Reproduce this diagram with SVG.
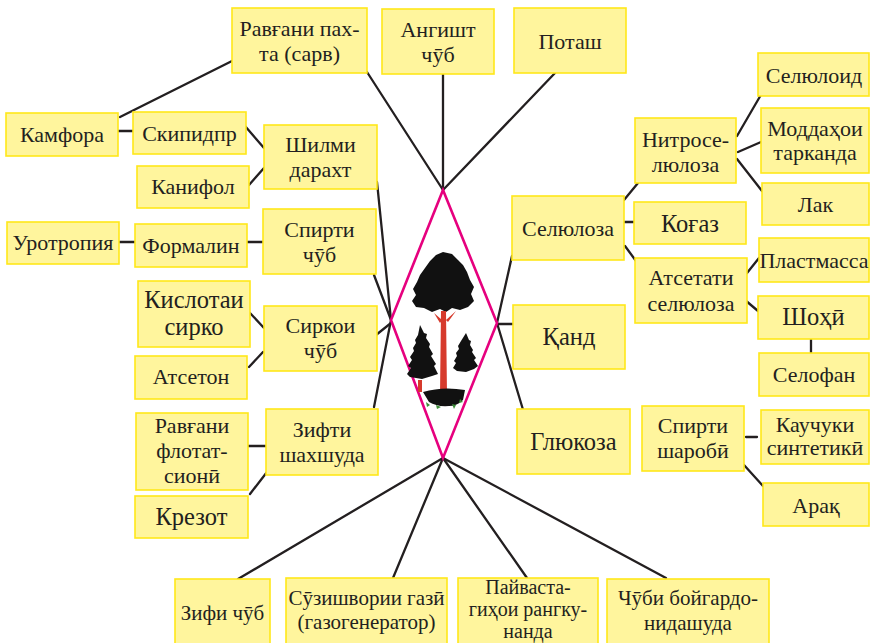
<svg xmlns="http://www.w3.org/2000/svg" width="871" height="643" viewBox="0 0 871 643" font-family="Liberation Serif, Times New Roman, serif">
<style>
.b{fill:#FFF59D;stroke:#FFE81A;stroke-width:1.6}
.t{font-size:22px;fill:#231F20;text-anchor:middle}
.g{font-size:24.5px}
.s{font-size:21px}
.p{font-size:20px}
.c{stroke:#231F20;stroke-width:2.3;fill:none;stroke-linecap:round}
.d{fill:#FFFFFF;stroke:#E6007E;stroke-width:2.6;stroke-linejoin:miter}
</style>
<rect width="871" height="643" fill="#FFFFFF"/>
<g id="connectors">
<line class="c" x1="118" y1="131" x2="133" y2="131"/>
<line class="c" x1="120" y1="117" x2="232" y2="61"/>
<line class="c" x1="245" y1="126" x2="264" y2="148"/>
<line class="c" x1="249" y1="185" x2="264" y2="168"/>
<line class="c" x1="367" y1="72" x2="443" y2="190"/>
<line class="c" x1="443" y1="74" x2="443" y2="190"/>
<line class="c" x1="555" y1="73" x2="443" y2="190"/>
<line class="c" x1="377" y1="182" x2="391" y2="320"/>
<line class="c" x1="374" y1="275" x2="391" y2="320"/>
<line class="c" x1="376" y1="335" x2="391" y2="323"/>
<line class="c" x1="374" y1="407" x2="391" y2="320"/>
<line class="c" x1="119" y1="242" x2="135" y2="242"/>
<line class="c" x1="247" y1="242" x2="263" y2="242"/>
<line class="c" x1="250" y1="313" x2="264" y2="328"/>
<line class="c" x1="249" y1="367" x2="263" y2="352"/>
<line class="c" x1="248" y1="446" x2="266" y2="446"/>
<line class="c" x1="250" y1="494" x2="267" y2="472"/>
<line class="c" x1="238" y1="579" x2="443" y2="458"/>
<line class="c" x1="393" y1="578" x2="443" y2="458"/>
<line class="c" x1="527" y1="578" x2="443" y2="458"/>
<line class="c" x1="666" y1="578" x2="443" y2="458"/>
<line class="c" x1="512" y1="256" x2="497" y2="323"/>
<line class="c" x1="497" y1="324" x2="513" y2="324"/>
<line class="c" x1="497" y1="323" x2="524" y2="413"/>
<line class="c" x1="624" y1="200" x2="638" y2="183"/>
<line class="c" x1="624" y1="222" x2="634" y2="222"/>
<line class="c" x1="625" y1="246" x2="636" y2="261"/>
<line class="c" x1="737" y1="136" x2="762" y2="93"/>
<line class="c" x1="738" y1="152" x2="761" y2="142"/>
<line class="c" x1="737" y1="159" x2="762" y2="191"/>
<line class="c" x1="747" y1="273" x2="759" y2="258"/>
<line class="c" x1="745" y1="300" x2="758" y2="311"/>
<line class="c" x1="811" y1="339" x2="811" y2="353"/>
<line class="c" x1="746" y1="437" x2="757" y2="437"/>
<line class="c" x1="744" y1="465" x2="763" y2="486"/>
</g>
<g id="tree">
<polygon class="d" points="443,190 497,323 443,458 391,320"/>
<path fill="#111111" d="M443,252 L452,254 L458,260 L463,265 L467,272 L470,280 L474,287 L471,294 L474,301 L468,307 L460,310 L452,308 L446,312 L440,309 L432,312 L424,308 L416,307 L412,301 L416,295 L413,289 L417,282 L420,275 L425,268 L430,261 L436,255 Z"/>
<path fill="#D63A2C" d="M441,311 h5 l1,84 h-7 z M434,313 l8,7 l-2,3 z M456,311 l-10,9 l2,2 z"/>
<path fill="#111111" d="M420,325 l4,8 l3,1 l-1,4 l4,6 l-1,3 l4,7 l-2,2 l5,8 l-2,2 l4,8 l-6,2 l-10,3 l-12,-2 l-3,-3 l4,-6 l-3,-2 l4,-6 l-2,-3 l4,-6 l-1,-3 l3,-5 l-1,-3 l3,-5 z"/>
<path fill="#D63A2C" d="M418,380 h4 v12 h-4 z"/>
<path fill="#111111" d="M466,333 l3,7 l2,1 l-1,4 l3,5 l-1,2 l4,6 l-2,2 l4,6 l-4,3 l-8,3 l-9,-1 l-4,-3 l3,-5 l-2,-2 l3,-5 l-1,-3 l3,-4 l-1,-3 l3,-5 z"/>
<path fill="#111111" d="M423,392 q20,-6 42,-2 l-2,10 q-6,6 -14,6 q-12,1 -20,-4 z"/>
<path fill="#3E8E3A" d="M426,402 l4,3 l-3,2 z M436,405 l5,2 l-4,2 z M452,404 l4,1 l-2,4 z M460,399 l3,3 l-4,1 z"/>
</g>
<g id="n_ravgani_pakhta"><rect class="b" x="232" y="8" width="135" height="65"/><text class="t" x="299.5" y="36">Равғани пах-</text><text class="t" x="299.5" y="61">та (сарв)</text></g>
<g id="n_angisht"><rect class="b" x="382" y="9" width="112" height="65"/><text class="t" x="438" y="37">Ангишт</text><text class="t" x="438" y="62">чӯб</text></g>
<g id="n_potash"><rect class="b" x="514" y="8" width="112" height="65"/><text class="t" x="570" y="49">Поташ</text></g>
<g id="n_kamfora"><rect class="b" x="6" y="113" width="112" height="43"/><text class="t" x="62" y="142">Камфора</text></g>
<g id="n_skipidpr"><rect class="b" x="133" y="112" width="113" height="42"/><text class="t" x="189.5" y="141">Скипидпр</text></g>
<g id="n_kanifol"><rect class="b" x="137" y="166" width="112" height="42"/><text class="t" x="193" y="194">Канифол</text></g>
<g id="n_shilmi"><rect class="b" x="264" y="125" width="113" height="64"/><text class="t" x="320.5" y="152">Шилми</text><text class="t" x="320.5" y="177">дарахт</text></g>
<g id="n_urotropiya"><rect class="b" x="7" y="222" width="112" height="42"/><text class="t" x="63" y="250">Уротропия</text></g>
<g id="n_formalin"><rect class="b" x="135" y="224" width="112" height="43"/><text class="t" x="191" y="252.5">Формалин</text></g>
<g id="n_spirti_chub"><rect class="b" x="263" y="209" width="113" height="65"/><text class="t" x="319.5" y="236.5">Спирти</text><text class="t" x="319.5" y="261.5">чӯб</text></g>
<g id="n_kislota"><rect class="b" x="138" y="281" width="112" height="66"/><text class="t g" x="194" y="308">Кислотаи</text><text class="t g" x="194" y="335">сирко</text></g>
<g id="n_sirkoi"><rect class="b" x="264" y="306" width="113" height="65"/><text class="t" x="320.5" y="333">Сиркои</text><text class="t" x="320.5" y="358">чӯб</text></g>
<g id="n_atseton"><rect class="b" x="135" y="356" width="112" height="43"/><text class="t" x="191" y="384">Атсетон</text></g>
<g id="n_ravgani_flot"><rect class="b" x="136" y="413" width="112" height="77"/><text class="t" x="192" y="433">Равғани</text><text class="t" x="192" y="458">флотат-</text><text class="t" x="192" y="483">сионӣ</text></g>
<g id="n_zifti"><rect class="b" x="266" y="409" width="112" height="66"/><text class="t" x="322" y="436.5">Зифти</text><text class="t" x="322" y="462">шахшуда</text></g>
<g id="n_krezot"><rect class="b" x="135" y="496" width="113" height="42"/><text class="t g" x="191.5" y="524.5">Крезот</text></g>
<g id="n_zifi_chub"><rect class="b" x="175" y="579" width="95" height="66"/><text class="t s" x="222.5" y="620">Зифи чӯб</text></g>
<g id="n_suzishvori"><rect class="b" x="286" y="578" width="161" height="67"/><text class="t s" x="366.5" y="605">Сӯзишвории газӣ</text><text class="t s" x="366.5" y="629">(газогенератор)</text></g>
<g id="n_payvasta"><rect class="b" x="458" y="578" width="140" height="67"/><text class="t p" x="528" y="594">Пайваста-</text><text class="t p" x="528" y="616">гиҳои рангку-</text><text class="t p" x="528" y="638">нанда</text></g>
<g id="n_chubi"><rect class="b" x="607" y="579" width="162" height="66"/><text class="t s" x="688" y="605">Чӯби бойгардо-</text><text class="t s" x="688" y="630">нидашуда</text></g>
<g id="n_selyuloza"><rect class="b" x="512" y="196" width="112" height="64"/><text class="t" x="568" y="235.5">Селюлоза</text></g>
<g id="n_nitro"><rect class="b" x="635" y="118" width="101" height="65"/><text class="t" x="685.5" y="146.5">Нитросе-</text><text class="t" x="685.5" y="171.5">люлоза</text></g>
<g id="n_kogaz"><rect class="b" x="634" y="202" width="112" height="42"/><text class="t g" x="690" y="231.5">Коғаз</text></g>
<g id="n_atsetati"><rect class="b" x="635" y="258" width="112" height="65"/><text class="t" x="691" y="285">Атсетати</text><text class="t" x="691" y="311">селюлоза</text></g>
<g id="n_selyuloid"><rect class="b" x="758" y="53" width="111" height="43"/><text class="t" x="814" y="83">Селюлоид</text></g>
<g id="n_moddahoi"><rect class="b" x="761" y="108" width="108" height="65"/><text class="t" x="815" y="136">Моддаҳои</text><text class="t" x="815" y="160">тарканда</text></g>
<g id="n_lak"><rect class="b" x="762" y="183" width="107" height="42"/><text class="t" x="815.5" y="211.5">Лак</text></g>
<g id="n_plastmassa"><rect class="b" x="759" y="238" width="110" height="44"/><text class="t" x="814" y="267.5">Пластмасса</text></g>
<g id="n_shohi"><rect class="b" x="758" y="296" width="111" height="43"/><text class="t g" x="813.5" y="325">Шоҳӣ</text></g>
<g id="n_selofan"><rect class="b" x="759" y="353" width="110" height="43"/><text class="t" x="814" y="381.5">Селофан</text></g>
<g id="n_qand"><rect class="b" x="513" y="305" width="112" height="64"/><text class="t g" x="569" y="345">Қанд</text></g>
<g id="n_glyukoza"><rect class="b" x="517" y="409" width="113" height="65"/><text class="t g" x="573.5" y="450">Глюкоза</text></g>
<g id="n_spirti_sharobi"><rect class="b" x="642" y="406" width="102" height="65"/><text class="t" x="693" y="433">Спирти</text><text class="t" x="693" y="458">шаробӣ</text></g>
<g id="n_kauchuki"><rect class="b" x="761" y="410" width="108" height="54"/><text class="t" x="815" y="432">Каучуки</text><text class="t" x="815" y="455">синтетикӣ</text></g>
<g id="n_arak"><rect class="b" x="763" y="483" width="106" height="43"/><text class="t" x="816" y="512.5">Арақ</text></g>
</svg>
